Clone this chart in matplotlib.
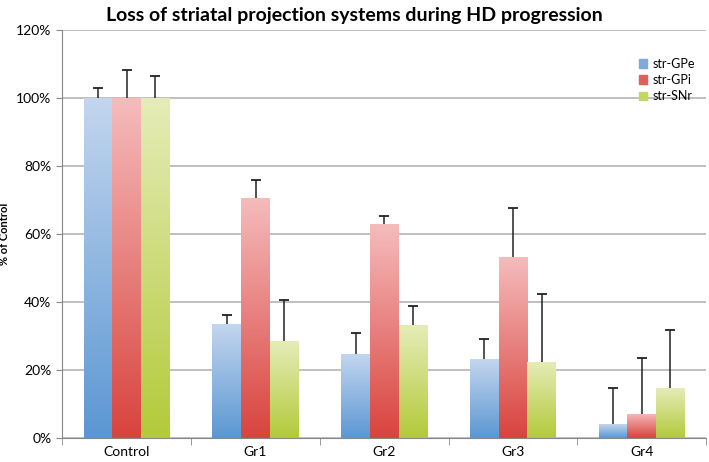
import numpy as np
import matplotlib
matplotlib.use("Agg")
import matplotlib.pyplot as plt
from matplotlib.colors import LinearSegmentedColormap

plt.rcParams['font.family'] = ['Lato', 'DejaVu Sans']

groups = ['Control', 'Gr1', 'Gr2', 'Gr3', 'Gr4']
series = ['str-GPe', 'str-GPi', 'str-SNr']
gpe = [100, 33.5, 24.7, 23.2, 4.1]
gpi = [100, 70.6, 62.9, 53.2, 7.1]
snr = [100, 28.5, 33.2, 22.4, 14.7]
gpe_err = [3.0, 2.7, 6.2, 5.9, 10.6]
gpi_err = [8.3, 5.3, 2.4, 14.4, 16.4]
snr_err = [6.5, 12.1, 5.6, 20.0, 17.1]

# (top colour, bottom colour) for the gradient fills
colors = [('#c3d6ee', '#5b97d3'), ('#f5bcbc', '#d9433d'), ('#e6ecb8', '#b3ca3a')]
legend_colors = ['#7fa9dc', '#e0605c', '#c6d663']

fig = plt.figure(figsize=(7.09, 4.62), dpi=100)
ax = fig.add_axes([0.088, 0.052, 0.908, 0.883])

x = np.arange(len(groups))
width = 0.223
vals = [gpe, gpi, snr]
errs = [gpe_err, gpi_err, snr_err]

grad = np.linspace(0, 1, 256).reshape(-1, 1)
for i, (v, e, (ctop, cbot)) in enumerate(zip(vals, errs, colors)):
    pos = x + (i - 1) * width
    bars = ax.bar(pos, v, width, color='none', edgecolor='none', zorder=2)
    cmap = LinearSegmentedColormap.from_list('g%d' % i, [cbot, ctop])
    for b in bars:
        x0, y0 = b.get_x(), b.get_y()
        im = ax.imshow(grad, cmap=cmap, origin='lower', aspect='auto',
                       extent=[x0, x0 + b.get_width(), y0, y0 + b.get_height()],
                       zorder=2)
        im.set_clip_path(b)
    eb = ax.errorbar(pos, v, yerr=[np.zeros(len(e)), e], fmt='none', ecolor='#222222',
                     elinewidth=1.1, capsize=3.5, capthick=1.3, zorder=3)
    # only the upper caps are shown
    eb[1][0].set_visible(False)

ax.set_xlim(-0.5, len(groups) - 0.5)
ax.set_ylim(0, 120)
ax.set_yticks(np.arange(0, 121, 20))
ax.set_yticklabels(['%d%%' % t for t in range(0, 121, 20)], fontsize=10)
ax.set_xticks(x)
ax.set_xticklabels(groups, fontsize=10)
ax.set_xticks(np.arange(-0.5, len(groups)), minor=True)
ax.tick_params(axis='x', which='major', length=0, pad=6)
ax.tick_params(axis='x', which='minor', length=5, color='#888888')
ax.tick_params(axis='y', length=4, color='#888888', pad=4)
ax.grid(axis='y', color='#bbbbbb', linewidth=1.3, zorder=0)
ax.set_axisbelow(True)
for s in ['top', 'right']:
    ax.spines[s].set_visible(False)
ax.spines['left'].set_color('#888888')
ax.spines['bottom'].set_color('#888888')

ax.set_ylabel('% of Control', fontsize=8, fontweight='bold', labelpad=4)
fig.suptitle('Loss of striatal projection systems during HD progression',
             fontsize=14, fontweight='bold', y=0.985)

handles = [plt.Rectangle((0, 0), 1, 1, color=c) for c in legend_colors]
ax.legend(handles, series, loc='upper right', bbox_to_anchor=(1.0, 0.96),
          frameon=False, fontsize=9, handlelength=0.7, handleheight=0.7,
          handletextpad=0.4, labelspacing=0.35)

fig.savefig('out.png', dpi=100)
